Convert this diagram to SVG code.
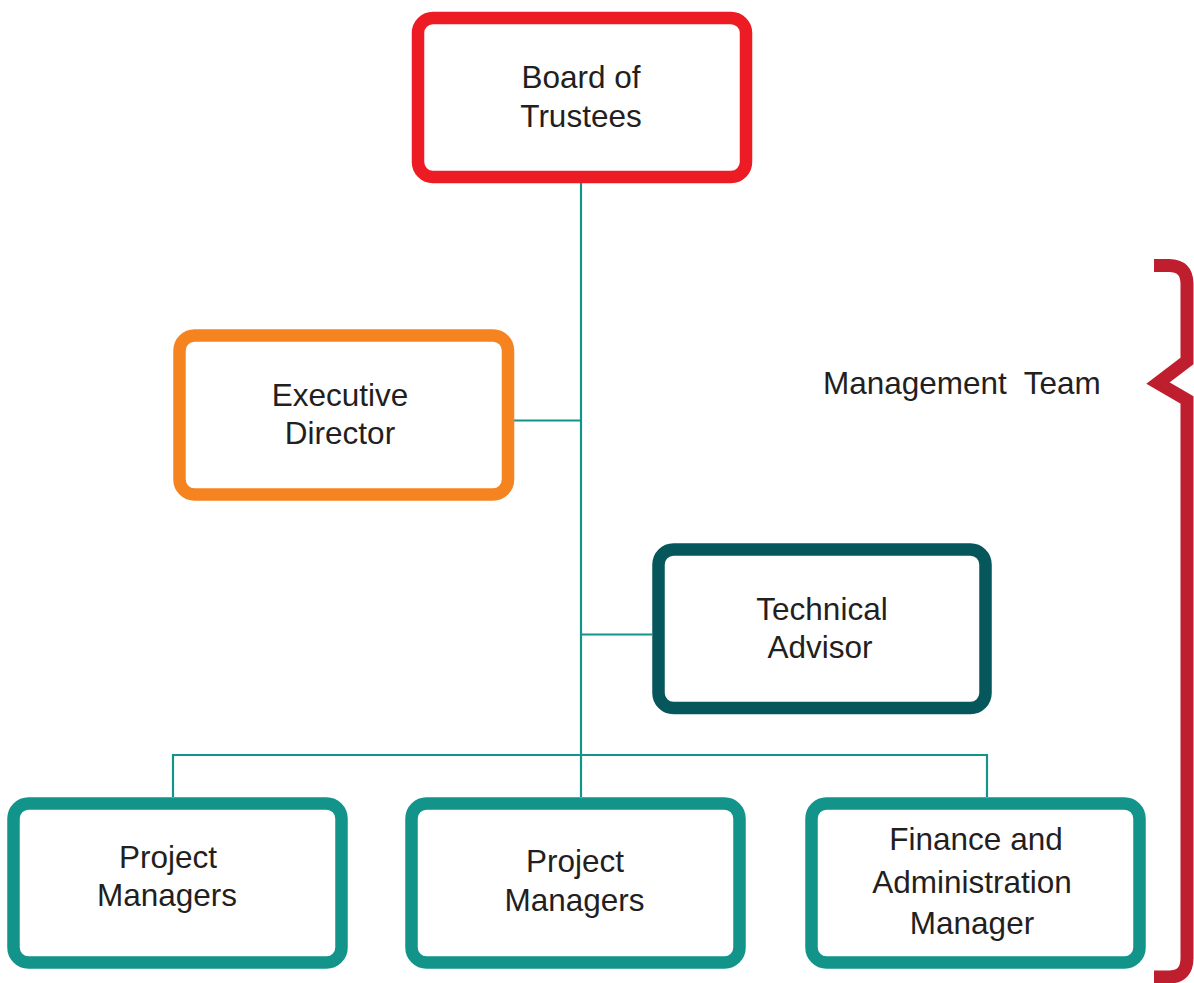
<svg xmlns="http://www.w3.org/2000/svg" width="1194" height="983" viewBox="0 0 1194 983">
<style>
.box{fill:#ffffff;stroke-width:12.5}
.t{font-family:"Liberation Sans",Arial,sans-serif;font-size:31.5px;fill:#231f20;text-anchor:middle}
.conn{fill:none;stroke:#12948b;stroke-width:2.2}
</style>
<rect width="1194" height="983" fill="#ffffff"/>
<g id="connectors" class="conn">
<line x1="581" y1="183" x2="581" y2="797"/>
<line x1="514" y1="420.5" x2="581" y2="420.5"/>
<line x1="581" y1="634.5" x2="652" y2="634.5"/>
<polyline points="173,797 173,755 987,755 987,797"/>
</g>
<g id="board">
<rect class="box" x="418" y="18" width="328" height="159" rx="15" stroke="#ed1c24"/>
<text class="t" x="581" y="88">Board of</text>
<text class="t" x="581" y="127">Trustees</text>
</g>
<g id="executive">
<rect class="box" x="179.5" y="335.5" width="328.5" height="159" rx="15" stroke="#f58420"/>
<text class="t" x="340" y="406">Executive</text>
<text class="t" x="340" y="444">Director</text>
</g>
<g id="technical">
<rect class="box" x="658.5" y="549.5" width="327" height="158.5" rx="15" stroke="#05575b"/>
<text class="t" x="822" y="620">Technical</text>
<text class="t" x="820" y="658">Advisor</text>
</g>
<g id="pm1">
<rect class="box" x="13.5" y="803.5" width="328" height="159" rx="15" stroke="#12948b"/>
<text class="t" x="168" y="868">Project</text>
<text class="t" x="167" y="906">Managers</text>
</g>
<g id="pm2">
<rect class="box" x="411.5" y="803.5" width="328" height="159" rx="15" stroke="#12948b"/>
<text class="t" x="575" y="872">Project</text>
<text class="t" x="574.5" y="911">Managers</text>
</g>
<g id="finance">
<rect class="box" x="811.5" y="803.5" width="328" height="159" rx="15" stroke="#12948b"/>
<text class="t" x="976" y="850">Finance and</text>
<text class="t" x="972" y="893">Administration</text>
<text class="t" x="972" y="934">Manager</text>
</g>
<g id="management-team">
<path d="M1154,265.5 H1169 Q1187,265.5 1187,284 V361 L1158,383 L1187,400 V958 Q1187,977 1169,977 H1154" fill="none" stroke="#be1e2d" stroke-width="13" stroke-linejoin="miter"/>
<text class="t" x="823" y="394" style="text-anchor:start" xml:space="preserve">Management  Team</text>
</g>
</svg>
